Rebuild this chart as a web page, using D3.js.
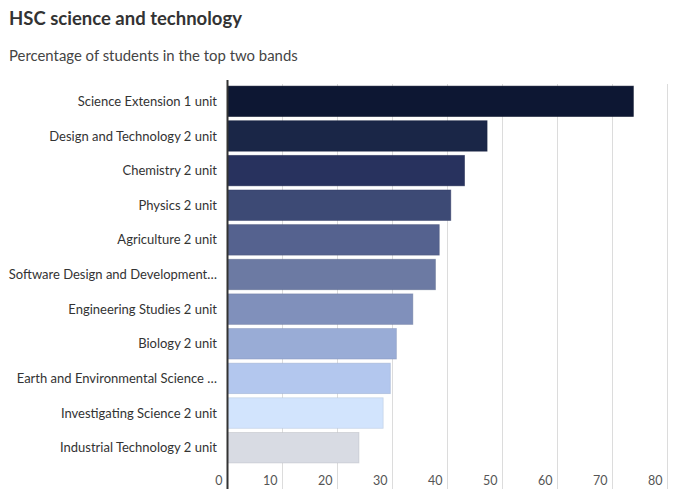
<!DOCTYPE html>
<html><head><meta charset="utf-8">
<script src="https://cdn.jsdelivr.net/npm/d3@7"></script>
<style>
body{margin:0;background:#fff;}
text{font-family:"Lato","Noto Sans",sans-serif;}
</style></head>
<body>
<svg id="chart" width="697" height="502"></svg>
<script>
const categories = ["Science Extension 1 unit","Design and Technology 2 unit","Chemistry 2 unit","Physics 2 unit","Agriculture 2 unit","Software Design and Development…","Engineering Studies 2 unit","Biology 2 unit","Earth and Environmental Science …","Investigating Science 2 unit","Industrial Technology 2 unit"];
const values = [73.8,47.2,43.1,40.6,38.5,37.8,33.7,30.7,29.6,28.3,23.9];
const colors = ["#0d1733","#1a2647","#28325e","#3d4a75","#55628f","#6c7aa3","#8090bb","#99acd6","#b3c7ee","#d2e4fd","#d8dbe3"];
const ticks = [0,10,20,30,40,50,60,70,80];

const svg = d3.select("#chart");
svg.append("text").attr("x",9).attr("y",25).attr("font-size",18.5).attr("font-weight","bold").attr("fill","#333").text("HSC science and technology");
svg.append("text").attr("x",9).attr("y",61).attr("font-size",14.9).attr("fill","#444").text("Percentage of students in the top two bands");

const x = d3.scaleLinear().domain([0,80]).range([227.5,667.5]);
const y = d3.scaleBand().domain(categories).range([84,465]).paddingInner(0.12).paddingOuter(0.06);

// grid
svg.append("g").selectAll("line").data(ticks.slice(1)).join("line")
  .attr("x1",d=>x(d)).attr("x2",d=>x(d)).attr("y1",84).attr("y2",489)
  .attr("stroke","#dcdcdc").attr("stroke-width",1);

// bars
svg.append("g").selectAll("rect").data(categories).join("rect")
  .attr("x",x(0)).attr("y",d=>y(d)).attr("height",y.bandwidth())
  .attr("width",(d,i)=>x(values[i])-x(0))
  .attr("fill",(d,i)=>colors[i])
  .attr("stroke",(d,i)=>d3.color(colors[i]).darker(0.4)).attr("stroke-width",0.8).attr("stroke-opacity",0.6);

// axis line
svg.append("line").attr("x1",x(0)).attr("x2",x(0)).attr("y1",80).attr("y2",489).attr("stroke","#333").attr("stroke-width",2);

// category labels
svg.append("g").selectAll("text").data(categories).join("text")
  .attr("x",217).attr("y",d=>y(d)+y.bandwidth()/2).attr("dy","0.35em")
  .attr("text-anchor","end").attr("font-size",13).attr("fill","#333").text(d=>d);

// tick labels
svg.append("g").selectAll("text").data(ticks).join("text")
  .attr("x",d=>x(d)-5).attr("y",485).attr("text-anchor","end")
  .attr("font-size",12.5).attr("fill","#555").text(d=>d);
</script>
</body></html>
